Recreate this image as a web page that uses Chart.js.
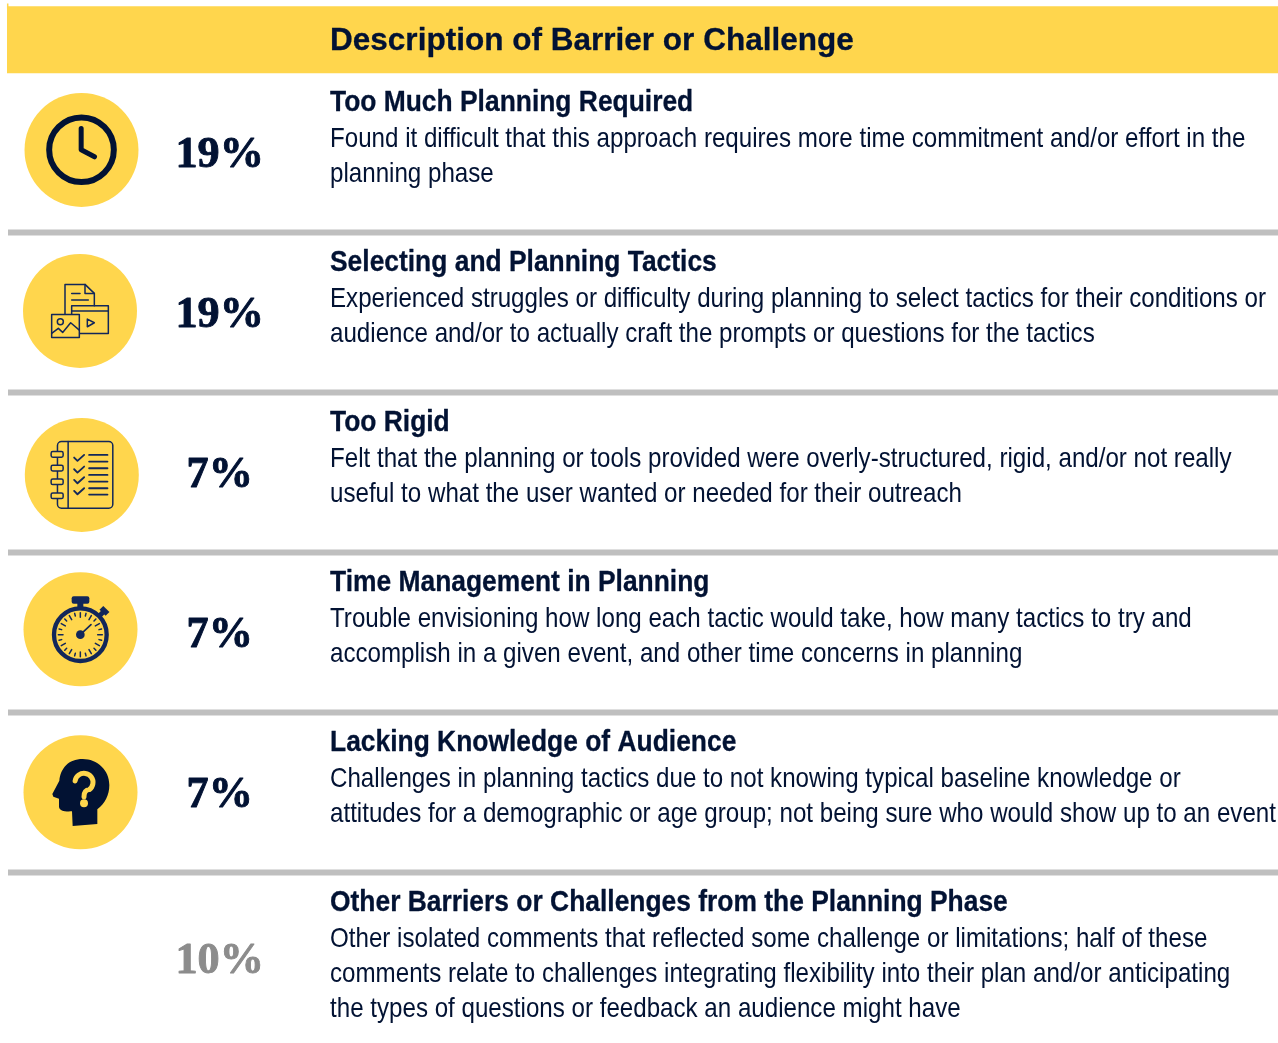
<!DOCTYPE html>
<html lang="en">
<head>
    <meta charset="UTF-8">
    <title>Description of Barrier or Challenge</title>
    <script src="https://cdn.jsdelivr.net/npm/chart.js"></script>
    <style>
        html, body { margin: 0; padding: 0; background: #fff; }
        canvas { display: block; }
    </style>
</head>
<body>
    <canvas id="barriers" width="1278" height="1043"></canvas>
    <script>
    const headerLabel = 'Description of Barrier or Challenge';
    const categories = [
        'Too Much Planning Required',
        'Selecting and Planning Tactics',
        'Too Rigid',
        'Time Management in Planning',
        'Lacking Knowledge of Audience',
        'Other Barriers or Challenges from the Planning Phase'
    ];
    const shares = [19, 19, 7, 7, 7, 10];
    const descriptions = [
        ['Found it difficult that this approach requires more time commitment and/or effort in the', 'planning phase'],
        ['Experienced struggles or difficulty during planning to select tactics for their conditions or', 'audience and/or to actually craft the prompts or questions for the tactics'],
        ['Felt that the planning or tools provided were overly-structured, rigid, and/or not really', 'useful to what the user wanted or needed for their outreach'],
        ['Trouble envisioning how long each tactic would take, how many tactics to try and', 'accomplish in a given event, and other time concerns in planning'],
        ['Challenges in planning tactics due to not knowing typical baseline knowledge or', 'attitudes for a demographic or age group; not being sure who would show up to an event'],
        ['Other isolated comments that reflected some challenge or limitations; half of these', 'comments relate to challenges integrating flexibility into their plan and/or anticipating', 'the types of questions or feedback an audience might have']
    ];

    const NAVY = '#021233';
    const ICON_NAVY = '#12275a';
    const YELLOW = '#ffd64d';
    const GREY = '#bfbfbf';

    // axes: x is in page pixels, y is in rows (row i is centred on i)
    const rows = categories.map((c, i) => i);
    const iconSpots = [[81.5, -0.016], [80, 0.99], [81.8, 2.015], [80.5, 2.98], [80.5, 3.999]];

    function line(x0, y0, x1, y1, width, color) {
        return {
            type: 'line',
            data: [{x: x0, y: y0}, {x: x1, y: y1}],
            borderColor: color,
            borderWidth: width,
            borderCapStyle: 'butt',
            pointRadius: 0
        };
    }

    function stroke(ctx, points, close) {
        ctx.beginPath();
        points.forEach((p, i) => i ? ctx.lineTo(p[0], p[1]) : ctx.moveTo(p[0], p[1]));
        if (close) ctx.closePath();
        ctx.stroke();
    }

    function clock(ctx) {
        ctx.strokeStyle = NAVY;
        ctx.lineWidth = 18;
        ctx.beginPath();
        ctx.arc(244, 449, 97, 0, Math.PI * 2);
        ctx.stroke();
        ctx.lineWidth = 15;
        stroke(ctx, [[243, 385], [243, 449], [283, 470]]);
    }

    function documents(ctx) {
        ctx.strokeStyle = ICON_NAVY;
        ctx.lineWidth = 4.5;
        stroke(ctx, [[195, 943], [195, 853], [255, 853], [283, 880], [283, 917]]);
        stroke(ctx, [[255, 853], [255, 880], [283, 880]]);
        stroke(ctx, [[215, 880], [240, 880]]);
        stroke(ctx, [[215, 900], [265, 900]]);
        ctx.strokeRect(215, 917, 110, 83);
        stroke(ctx, [[215, 933], [325, 933]]);
        stroke(ctx, [[262, 957], [283, 968], [262, 980]], true);
        ctx.fillStyle = YELLOW;
        ctx.fillRect(155, 943, 83, 69);
        ctx.strokeRect(155, 943, 83, 69);
        ctx.beginPath();
        ctx.arc(181, 965, 9, 0, Math.PI * 2);
        ctx.stroke();
        stroke(ctx, [[155, 1000], [175, 985], [188, 997], [212, 968], [238, 990]]);
    }

    function checklist(ctx) {
        ctx.strokeStyle = ICON_NAVY;
        ctx.lineWidth = 4.5;
        ctx.beginPath();
        ctx.roundRect(172, 125, 166, 200, 12);
        ctx.stroke();
        stroke(ctx, [[204, 125], [204, 325]]);
        [155, 196, 237, 279].forEach(y => {
            ctx.fillStyle = YELLOW;
            ctx.beginPath();
            ctx.roundRect(153, y, 36, 17, 5);
            ctx.fill();
            ctx.stroke();
        });
        ctx.lineWidth = 5.5;
        [165, 200, 232, 265].forEach(y => stroke(ctx, [[222, y + 8], [232, y + 18], [252, y]]));
        [165, 185, 205, 225, 245, 265, 284].forEach(y => stroke(ctx, [[267, y], [322, y]]));
    }

    function stopwatch(ctx) {
        ctx.strokeStyle = ICON_NAVY;
        ctx.fillStyle = ICON_NAVY;
        ctx.beginPath();
        ctx.roundRect(215, 588, 53, 22, 6);
        ctx.fill();
        ctx.fillRect(232, 606, 18, 18);
        ctx.save();
        ctx.translate(312, 633);
        ctx.rotate(Math.PI / 4);
        ctx.fillRect(-13, -10, 26, 16);
        ctx.fillRect(-7, 4, 14, 16);
        ctx.restore();
        ctx.lineWidth = 13;
        ctx.beginPath();
        ctx.arc(241, 703, 79, 0, Math.PI * 2);
        ctx.fillStyle = YELLOW;
        ctx.fill();
        ctx.stroke();
        ctx.lineWidth = 4.5;
        for (let t = 0; t < 24; t++) {
            const a = t * Math.PI / 12;
            const inner = t % 2 ? 58 : 52;
            stroke(ctx, [[241 + Math.cos(a) * inner, 703 + Math.sin(a) * inner], [241 + Math.cos(a) * 66, 703 + Math.sin(a) * 66]]);
        }
        ctx.lineWidth = 5;
        stroke(ctx, [[241, 703], [273, 673]]);
        ctx.fillStyle = ICON_NAVY;
        ctx.beginPath();
        ctx.arc(241, 703, 13, 0, Math.PI * 2);
        ctx.fill();
    }

    function head(ctx) {
        ctx.fillStyle = NAVY;
        ctx.beginPath();
        ctx.moveTo(218, 1278);
        ctx.lineTo(292, 1272);
        ctx.lineTo(292, 1228);
        ctx.bezierCurveTo(315, 1210, 328, 1185, 328, 1155);
        ctx.bezierCurveTo(328, 1110, 292, 1077, 248, 1077);
        ctx.bezierCurveTo(205, 1077, 182, 1105, 178, 1142);
        ctx.lineTo(157, 1182);
        ctx.lineTo(160, 1190);
        ctx.lineTo(177, 1196);
        ctx.lineTo(177, 1220);
        ctx.bezierCurveTo(178, 1232, 195, 1236, 216, 1234);
        ctx.closePath();
        ctx.fill();
        ctx.strokeStyle = YELLOW;
        ctx.lineWidth = 15;
        ctx.beginPath();
        ctx.arc(252, 1147, 27, Math.PI * 1.05, Math.PI * 0.3);
        ctx.quadraticCurveTo(252, 1170, 252, 1190);
        ctx.stroke();
        ctx.fillStyle = YELLOW;
        ctx.beginPath();
        ctx.arc(252, 1210, 12, 0, Math.PI * 2);
        ctx.fill();
    }

    // each icon is traced at 3x around the middle of its circle
    const icons = [
        {draw: clock, cx: 244, cy: 449.5},
        {draw: documents, cx: 240, cy: 932.5},
        {draw: checklist, cx: 245, cy: 225},
        {draw: stopwatch, cx: 241.5, cy: 687},
        {draw: head, cx: 241.5, cy: 1177}
    ];

    function text(ctx, str, x, y, font, color, stretch, center, heavy) {
        ctx.save();
        ctx.font = font;
        ctx.fillStyle = color;
        ctx.strokeStyle = color;
        ctx.textBaseline = 'alphabetic';
        ctx.translate(x, y);
        ctx.scale(stretch, 1);
        ctx.textAlign = center ? 'center' : 'left';
        ctx.fillText(str, 0, 0);
        if (heavy) {
            ctx.lineWidth = heavy;
            ctx.lineJoin = 'round';
            ctx.strokeText(str, 0, 0);
        }
        ctx.restore();
    }

    const tablePlugin = {
        id: 'tablePlugin',
        afterDatasetsDraw(chart) {
            const ctx = chart.ctx;
            const y = chart.scales.y;
            const x = chart.scales.x;
            const left = x.getPixelForValue(330);

            icons.forEach((icon, i) => {
                ctx.save();
                ctx.translate(x.getPixelForValue(iconSpots[i][0]), y.getPixelForValue(iconSpots[i][1]));
                ctx.scale(1 / 3, 1 / 3);
                ctx.translate(-icon.cx, -icon.cy);
                ctx.lineCap = 'round';
                ctx.lineJoin = 'round';
                icon.draw(ctx);
                ctx.restore();
            });

            text(ctx, headerLabel, left, y.getPixelForValue(-1) + 57, 'bold 31px "Liberation Sans"', NAVY, 1.017, false, 0.3);

            categories.forEach((title, i) => {
                const base = y.getPixelForValue(i);
                const pctRow = i === 5 ? 5.04 : i;
                text(ctx, shares[i] + '%', x.getPixelForValue(219.7), y.getPixelForValue(pctRow) + 14.5,
                    'bold 44px "Liberation Serif"', i === 5 ? '#8c8c8c' : NAVY, 1.005, true, 0.9);
                text(ctx, title, left, base - 42, 'bold 30px "Liberation Sans"', NAVY, 0.88, false, 0.3);
                descriptions[i].forEach((row, j) => {
                    text(ctx, row, left, base - 6 + j * 35, '28px "Liberation Sans"', NAVY, 0.862);
                });
            });
        }
    };

    document.addEventListener('DOMContentLoaded', function() {
        const datasets = [
            // header band, its small nick, and the rules between the rows
            line(7, -0.705, 1278, -0.705, 67, YELLOW),
            line(7.7, -0.931, 7.7, -0.9, 1.5, YELLOW),
            ...[0.5, 1.5, 2.5, 3.5, 4.5].map(r => line(8, r, 1278, r, 6, GREY)),
            {
                type: 'scatter',
                data: iconSpots.map(s => ({x: s[0], y: s[1]})),
                backgroundColor: YELLOW,
                borderWidth: 0,
                pointRadius: 57
            }
        ];

        new Chart(document.getElementById('barriers').getContext('2d'), {
            type: 'scatter',
            data: {labels: rows, datasets: datasets},
            options: {
                responsive: false,
                animation: false,
                clip: false,
                layout: {padding: 0, autoPadding: false},
                plugins: {legend: {display: false}, tooltip: {enabled: false}},
                scales: {
                    x: {type: 'linear', min: 0, max: 1278, display: false},
                    y: {type: 'linear', min: -152.5 / 160, max: 890.5 / 160, reverse: true, display: false}
                }
            },
            plugins: [tablePlugin]
        });
    });
    </script>
</body>
</html>
